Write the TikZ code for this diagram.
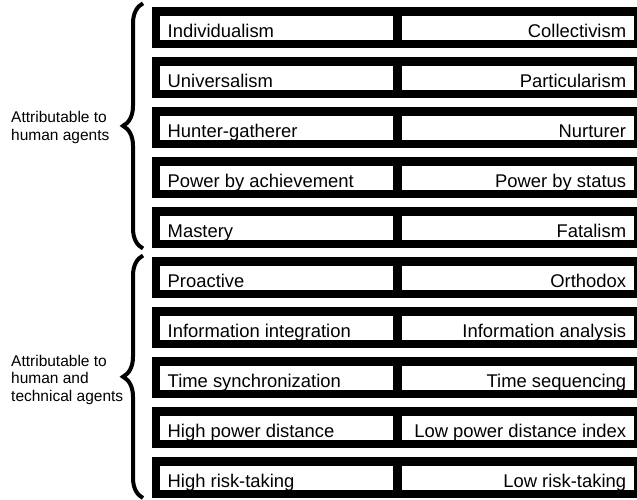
\documentclass[tikz,border=0pt]{standalone}
\usepackage{fontspec}
\setmainfont{Liberation Sans}
\usetikzlibrary{decorations.pathreplacing}
\begin{document}
\begin{tikzpicture}[x=1pt,y=-1pt,
  boxtext/.style={inner sep=0pt, font=\fontsize{18.4}{20}\selectfont},
  grouptext/.style={inner sep=0pt, align=left, font=\fontsize{15.5}{17.8}\selectfont},
  bracepath/.style={decorate, decoration={brace, amplitude=20pt, aspect=0.5}, line width=4pt}]
\useasboundingbox (0,0) rectangle (637,499);
\clip (0,0) rectangle (637,499);
\fill[white] (0,0) rectangle (637,499);
\foreach \i/\l/\r in {1/Individualism/Collectivism,
                      2/Universalism/Particularism,
                      3/Hunter-gatherer/Nurturer,
                      4/Power by achievement/Power by status,
                      5/Mastery/Fatalism,
                      6/Proactive/Orthodox,
                      7/Information integration/Information analysis,
                      8/Time synchronization/Time sequencing,
                      9/High power distance/Low power distance index,
                      10/High risk-taking/Low risk-taking}{
  \pgfmathsetmacro\t{7.3+50*(\i-1)}
  \fill[black] (152,\t) rectangle (642,\t+41);
  \fill[white] (160,\t+8.5) rectangle (393.3,\t+32.7);
  \fill[white] (401.7,\t+8.5) rectangle (634.3,\t+32.7);
  \begin{scope}
    \clip (160,\t+8.5) rectangle (393.3,\t+32.7);
    \node[boxtext, anchor=base west] (L\i) at (167.5,\t+30.1) {\l};
  \end{scope}
  \begin{scope}
    \clip (401.7,\t+8.5) rectangle (634.3,\t+32.7);
    \node[boxtext, anchor=base east] (R\i) at (626.3,\t+30.1) {\r};
  \end{scope}
}
\node[grouptext, anchor=base west] (G1) at (11,140.7) {Attributable to\\human agents};
\node[grouptext, anchor=base west] (G2) at (11,401.7) {Attributable to\\human and\\technical agents};
\coordinate (B1top) at (143,3.3);
\coordinate (B1bot) at (143,248.5);
\coordinate (B2top) at (143,255.5);
\coordinate (B2bot) at (143,498);
\draw[bracepath] (B1bot) -- (B1top);
\draw[bracepath] (B2bot) -- (B2top);
\end{tikzpicture}
\end{document}
